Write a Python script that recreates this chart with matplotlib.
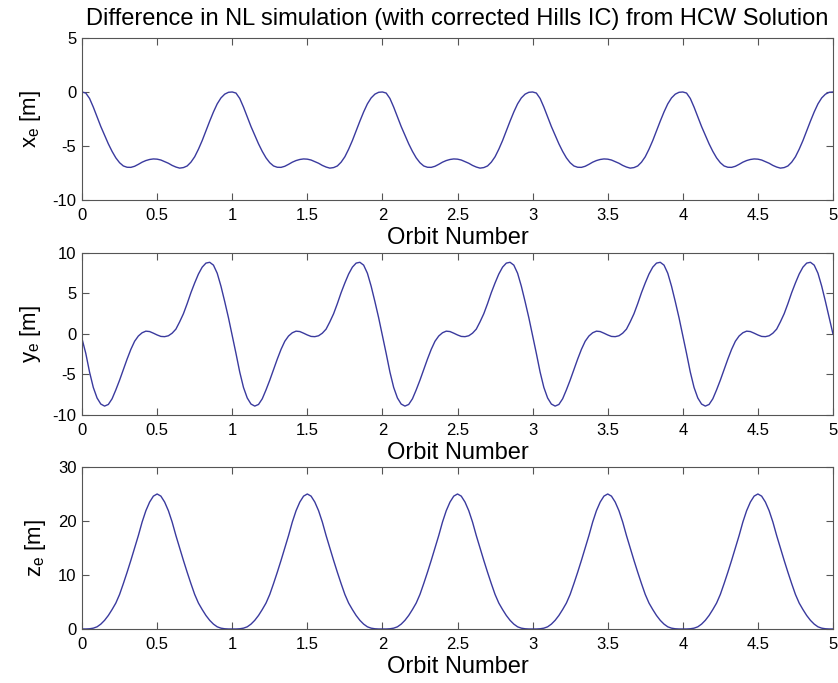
import numpy as np
import matplotlib
matplotlib.use("Agg")
import matplotlib.pyplot as plt

plt.rcParams['font.family'] = ['Liberation Sans', 'DejaVu Sans']
plt.rcParams['mathtext.fontset'] = 'custom'
plt.rcParams['mathtext.rm'] = 'Liberation Sans'
plt.rcParams['axes.unicode_minus'] = False

# Orbit number samples (step 0.025 orbit)
orbit = np.linspace(0, 5, 201)

# x_e [m]
x_e = [
    0.0, -0.1, -0.6, -1.4, -2.3, -3.2, -4.0, -4.8, -5.5, -6.1, -6.55, -6.85, -6.97, -6.98, -6.88, -6.7, -6.5, -6.35, -6.25, -6.2,
    -6.22, -6.3, -6.45, -6.6, -6.8, -6.95, -7.05, -7.0, -6.85, -6.5, -6.0, -5.3, -4.5, -3.6, -2.7, -1.85, -1.1, -0.55, -0.2, -0.03,
    0.0, -0.1, -0.6, -1.4, -2.3, -3.2, -4.0, -4.8, -5.5, -6.1, -6.55, -6.85, -6.97, -6.98, -6.88, -6.7, -6.5, -6.35, -6.25, -6.2,
    -6.22, -6.3, -6.45, -6.6, -6.8, -6.95, -7.05, -7.0, -6.85, -6.5, -6.0, -5.3, -4.5, -3.6, -2.7, -1.85, -1.1, -0.55, -0.2, -0.03,
    0.0, -0.1, -0.6, -1.4, -2.3, -3.2, -4.0, -4.8, -5.5, -6.1, -6.55, -6.85, -6.97, -6.98, -6.88, -6.7, -6.5, -6.35, -6.25, -6.2,
    -6.22, -6.3, -6.45, -6.6, -6.8, -6.95, -7.05, -7.0, -6.85, -6.5, -6.0, -5.3, -4.5, -3.6, -2.7, -1.85, -1.1, -0.55, -0.2, -0.03,
    0.0, -0.1, -0.6, -1.4, -2.3, -3.2, -4.0, -4.8, -5.5, -6.1, -6.55, -6.85, -6.97, -6.98, -6.88, -6.7, -6.5, -6.35, -6.25, -6.2,
    -6.22, -6.3, -6.45, -6.6, -6.8, -6.95, -7.05, -7.0, -6.85, -6.5, -6.0, -5.3, -4.5, -3.6, -2.7, -1.85, -1.1, -0.55, -0.2, -0.03,
    0.0, -0.1, -0.6, -1.4, -2.3, -3.2, -4.0, -4.8, -5.5, -6.1, -6.55, -6.85, -6.97, -6.98, -6.88, -6.7, -6.5, -6.35, -6.25, -6.2,
    -6.22, -6.3, -6.45, -6.6, -6.8, -6.95, -7.05, -7.0, -6.85, -6.5, -6.0, -5.3, -4.5, -3.6, -2.7, -1.85, -1.1, -0.55, -0.2, -0.03,
    0.0,
]

# y_e [m]
y_e = [
    -0.6, -2.4, -4.7, -6.6, -7.9, -8.65, -8.9, -8.7, -8.0, -6.9, -5.7, -4.4, -3.1, -1.9, -0.9, -0.25, 0.15, 0.35, 0.3, 0.1,
    -0.12, -0.3, -0.33, -0.22, 0.1, 0.6, 1.5, 2.5, 3.75, 5.1, 6.3, 7.4, 8.25, 8.75, 8.85, 8.5, 7.5, 5.9, 4.0, 2.0,
    -0.2, -2.4, -4.7, -6.6, -7.9, -8.65, -8.9, -8.7, -8.0, -6.9, -5.7, -4.4, -3.1, -1.9, -0.9, -0.25, 0.15, 0.35, 0.3, 0.1,
    -0.12, -0.3, -0.33, -0.22, 0.1, 0.6, 1.5, 2.5, 3.75, 5.1, 6.3, 7.4, 8.25, 8.75, 8.85, 8.5, 7.5, 5.9, 4.0, 2.0,
    -0.2, -2.4, -4.7, -6.6, -7.9, -8.65, -8.9, -8.7, -8.0, -6.9, -5.7, -4.4, -3.1, -1.9, -0.9, -0.25, 0.15, 0.35, 0.3, 0.1,
    -0.12, -0.3, -0.33, -0.22, 0.1, 0.6, 1.5, 2.5, 3.75, 5.1, 6.3, 7.4, 8.25, 8.75, 8.85, 8.5, 7.5, 5.9, 4.0, 2.0,
    -0.2, -2.4, -4.7, -6.6, -7.9, -8.65, -8.9, -8.7, -8.0, -6.9, -5.7, -4.4, -3.1, -1.9, -0.9, -0.25, 0.15, 0.35, 0.3, 0.1,
    -0.12, -0.3, -0.33, -0.22, 0.1, 0.6, 1.5, 2.5, 3.75, 5.1, 6.3, 7.4, 8.25, 8.75, 8.85, 8.5, 7.5, 5.9, 4.0, 2.0,
    -0.2, -2.4, -4.7, -6.6, -7.9, -8.65, -8.9, -8.7, -8.0, -6.9, -5.7, -4.4, -3.1, -1.9, -0.9, -0.25, 0.15, 0.35, 0.3, 0.1,
    -0.12, -0.3, -0.33, -0.22, 0.1, 0.6, 1.5, 2.5, 3.75, 5.1, 6.3, 7.4, 8.25, 8.75, 8.85, 8.5, 7.5, 5.9, 4.0, 2.0,
    0.0,
]

# z_e [m]
z_e = [
    0.0, 0.0, 0.04, 0.15, 0.4, 0.9, 1.6, 2.5, 3.6, 4.8, 6.4, 8.4, 10.5, 12.7, 15.0, 17.3, 19.8, 21.9, 23.5, 24.6,
    25.0, 24.6, 23.5, 21.9, 19.8, 17.3, 15.0, 12.7, 10.5, 8.4, 6.4, 4.8, 3.6, 2.5, 1.6, 0.9, 0.4, 0.15, 0.04, 0.0,
    0.0, 0.0, 0.04, 0.15, 0.4, 0.9, 1.6, 2.5, 3.6, 4.8, 6.4, 8.4, 10.5, 12.7, 15.0, 17.3, 19.8, 21.9, 23.5, 24.6,
    25.0, 24.6, 23.5, 21.9, 19.8, 17.3, 15.0, 12.7, 10.5, 8.4, 6.4, 4.8, 3.6, 2.5, 1.6, 0.9, 0.4, 0.15, 0.04, 0.0,
    0.0, 0.0, 0.04, 0.15, 0.4, 0.9, 1.6, 2.5, 3.6, 4.8, 6.4, 8.4, 10.5, 12.7, 15.0, 17.3, 19.8, 21.9, 23.5, 24.6,
    25.0, 24.6, 23.5, 21.9, 19.8, 17.3, 15.0, 12.7, 10.5, 8.4, 6.4, 4.8, 3.6, 2.5, 1.6, 0.9, 0.4, 0.15, 0.04, 0.0,
    0.0, 0.0, 0.04, 0.15, 0.4, 0.9, 1.6, 2.5, 3.6, 4.8, 6.4, 8.4, 10.5, 12.7, 15.0, 17.3, 19.8, 21.9, 23.5, 24.6,
    25.0, 24.6, 23.5, 21.9, 19.8, 17.3, 15.0, 12.7, 10.5, 8.4, 6.4, 4.8, 3.6, 2.5, 1.6, 0.9, 0.4, 0.15, 0.04, 0.0,
    0.0, 0.0, 0.04, 0.15, 0.4, 0.9, 1.6, 2.5, 3.6, 4.8, 6.4, 8.4, 10.5, 12.7, 15.0, 17.3, 19.8, 21.9, 23.5, 24.6,
    25.0, 24.6, 23.5, 21.9, 19.8, 17.3, 15.0, 12.7, 10.5, 8.4, 6.4, 4.8, 3.6, 2.5, 1.6, 0.9, 0.4, 0.15, 0.04, 0.0,
    0.0,
]

x_ticks = [0, 0.5, 1, 1.5, 2, 2.5, 3, 3.5, 4, 4.5, 5]
x_tick_labels = ['0', '0.5', '1', '1.5', '2', '2.5', '3', '3.5', '4', '4.5', '5']
panels = [
    (x_e, r'$\mathregular{x_e}$ [m]', (-10, 5), [-10, -5, 0, 5]),
    (y_e, r'$\mathregular{y_e}$ [m]', (-10, 10), [-10, -5, 0, 5, 10]),
    (z_e, r'$\mathregular{z_e}$ [m]', (0, 30), [0, 10, 20, 30]),
]
title = 'Difference in NL simulation (with corrected Hills IC) from HCW Solution'

fig = plt.figure(figsize=(8.38, 6.83), dpi=100)
rects = [
    [0.0979, 0.7072, 0.8961, 0.2372],
    [0.0979, 0.3924, 0.8961, 0.2372],
    [0.0979, 0.0791, 0.8961, 0.2372],
]
line_color = '#3a3a9e'
spine_color = '#555555'
for i, (rect, (vals, ylab, ylim, yticks)) in enumerate(zip(rects, panels)):
    ax = fig.add_axes(rect)
    ax.plot(orbit, vals, color=line_color, lw=1.0)
    ax.set_xlim(0, 5)
    ax.set_ylim(*ylim)
    ax.set_xticks(x_ticks)
    ax.set_xticklabels(x_tick_labels)
    ax.set_yticks(yticks)
    ax.tick_params(direction='in', top=True, right=True, length=5, width=0.8,
                   color=spine_color, labelsize=12, pad=4, labelcolor='black')
    ax.tick_params(axis='x', pad=6)
    for s in ax.spines.values():
        s.set_color(spine_color)
        s.set_linewidth(0.8)
    ax.set_xlabel('Orbit Number', fontsize=17, labelpad=3)
    ax.set_ylabel(ylab, fontsize=16, labelpad=7)
    if i == 0:
        ax.set_title(title, fontsize=17, pad=9)

fig.savefig('out.png', dpi=100)
